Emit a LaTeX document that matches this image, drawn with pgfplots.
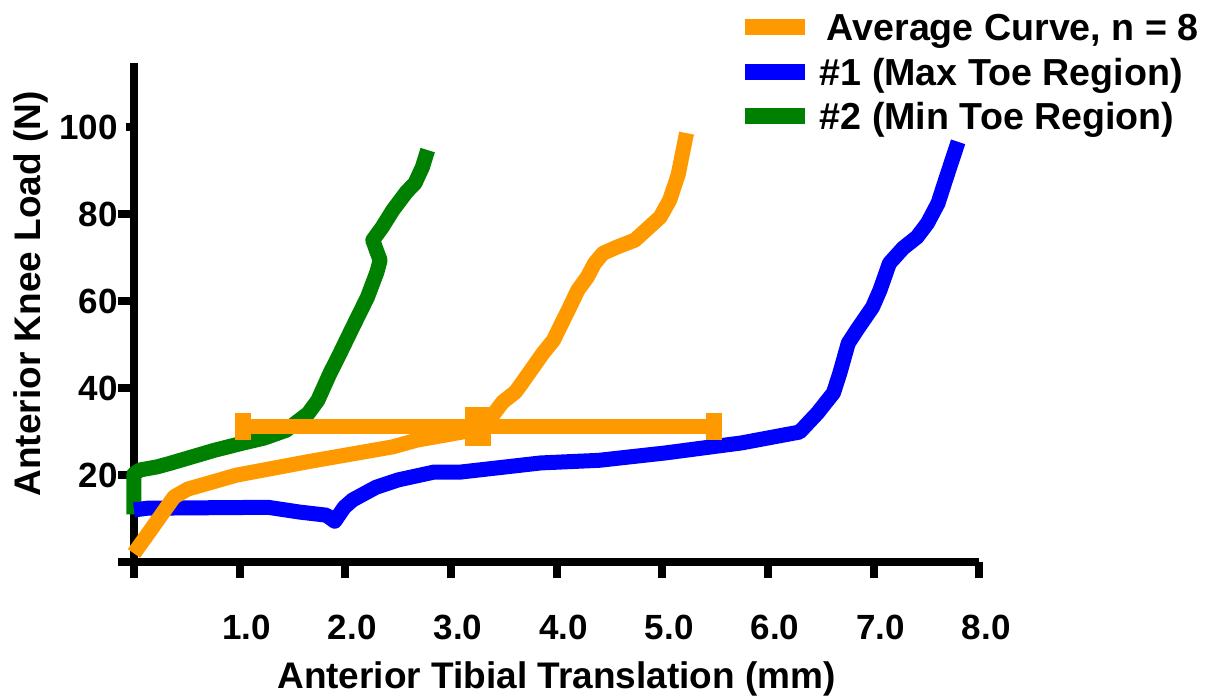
\documentclass[border=0pt]{standalone}
\usepackage{pgfplots}
\pgfplotsset{compat=1.18}
\usepackage{fontspec}
\setmainfont{Liberation Sans}
\definecolor{avgorange}{RGB}{255,153,0}
\definecolor{toeblue}{RGB}{0,0,255}
\definecolor{toegreen}{RGB}{0,128,0}
% tall filled box for the mean point
\pgfdeclareplotmark{tallsq}{%
  \pgfpathrectangle{\pgfpoint{-6.5pt}{-9.75pt}}{\pgfpoint{13pt}{19.5pt}}%
  \pgfusepathqfill}

\begin{document}
\begin{tikzpicture}
\begin{axis}[
  scale only axis, width=422.6pt, height=249.5pt,
  xmin=0, xmax=8, ymin=0, ymax=114.7,
  axis lines=left,
  axis line style={-, line width=4pt, line cap=butt, black},
  clip=false,
  tick align=outside,
  major tick length=8pt,
  tick style={line width=4pt, black},
  every y tick/.append style={shorten <=4pt},
  xtick={0,1,...,8},
  xticklabels={,1.0,2.0,3.0,4.0,5.0,6.0,7.0,8.0},
  ytick={0,20,...,100},
  yticklabels={,20,40,60,80,100},
  xticklabel style={font=\fontsize{17.5}{20}\selectfont\bfseries, anchor=center, inner sep=0pt, yshift=-24.5pt, xshift=3.5pt},
  yticklabel style={font=\fontsize{17.5}{20}\selectfont\bfseries, inner sep=0pt},
  xlabel={Anterior Tibial Translation (mm)},
  ylabel={Anterior Knee Load (N)},
  xlabel style={at={(axis description cs:0.5,-0.2525)}, anchor=base, inner sep=0pt, font=\fontsize{18.5}{22}\selectfont\bfseries},
  ylabel style={at={(axis description cs:-0.1105,0.5375)}, anchor=base, inner sep=0pt, font=\fontsize{18.5}{22}\selectfont\bfseries},
  legend cell align=left,
  legend image code/.code={\draw[#1, line cap=butt] (0pt,0pt) -- (30pt,0pt);},
  legend style={draw=none, fill=none, at={(axis cs:5.706,127.9)}, anchor=north west,
    inner sep=0pt, outer sep=0pt, row sep=0.9pt,
    font=\fontsize{18.8}{22}\selectfont\bfseries,
    nodes={inner sep=0pt, text height=17.4pt, text depth=4pt},
    /tikz/every odd column/.append style={column sep=3.5pt}},
]
% legend order: average, #1, #2
\addlegendimage{avgorange, line width=8pt}
\addlegendentry{\hspace*{3.5pt}Average Curve, n = 8}
\addlegendimage{toeblue, line width=8pt}
\addlegendentry{\#1 (Max Toe Region)}
\addlegendimage{toegreen, line width=8pt}
\addlegendentry{\#2 (Min Toe Region)}

% #2 min toe region
\addplot[toegreen, line width=7.5pt, line join=round, forget plot] coordinates {
  (0,11.0) (0,20.3) (0.06,21.2) (0.22,21.9) (0.34,22.7) (0.76,25.7) (1.02,27.3)
  (1.23,28.5) (1.44,30.3) (1.65,34.2) (1.74,37.2) (1.855,43.4) (1.95,48.0)
  (2.07,54.0) (2.21,60.9) (2.30,66.7) (2.33,69.4) (2.30,71.3) (2.26,74.0)
  (2.35,77.0) (2.45,80.9) (2.58,85.1) (2.66,87.1) (2.73,90.8) (2.78,94.7)
};
% #1 max toe region
\addplot[toeblue, line width=7.5pt, line join=round, forget plot] coordinates {
  (0,12.0) (0.13,12.4) (1.27,12.6) (1.57,11.5) (1.82,10.8) (1.90,9.4) (1.99,12.6)
  (2.07,14.3) (2.29,17.2) (2.50,18.9) (2.84,20.7) (3.09,20.7) (3.85,22.8)
  (4.40,23.4) (5.03,25.1) (5.75,27.4) (6.30,29.9) (6.47,34.3) (6.62,38.9)
  (6.68,43.4) (6.76,50.3) (6.84,53.3) (6.99,58.6) (7.06,62.5) (7.15,68.7)
  (7.28,72.2) (7.41,74.7) (7.51,77.9) (7.61,82.5) (7.69,88.5) (7.80,96.6)
};
% average curve
\addplot[avgorange, line width=7.5pt, line join=round, forget plot] coordinates {
  (0,2.0) (0.17,7.8) (0.38,15.0) (0.51,16.8) (0.97,20.0) (1.65,23.1) (2.45,26.5)
  (2.67,28.0) (3.13,30.0) (3.38,33.3) (3.49,36.8) (3.61,39.1) (3.67,41.1)
  (3.87,48.0) (3.97,51.0) (4.03,54.0) (4.11,57.9) (4.20,62.5) (4.29,65.5)
  (4.36,68.7) (4.44,71.0) (4.57,72.4) (4.74,74.0) (4.98,79.3) (5.07,83.2)
  (5.15,89.0) (5.23,98.6)
};
% mean point with x error bar
\addplot[avgorange, only marks, mark=tallsq,
  mark options={fill=avgorange, draw=none}, forget plot,
  error bars/.cd, x dir=both, x explicit,
  error bar style={line width=7.5pt, avgorange},
  error mark options={rotate=90, line width=8pt, mark size=6.7pt, avgorange}]
  coordinates {(3.26,31.1) +- (2.23,0)};

% page extent of the reference picture
\path (axis cs:-1.268,-30.80) rectangle (axis cs:10.146,129.2);
\end{axis}
\end{tikzpicture}
\end{document}
